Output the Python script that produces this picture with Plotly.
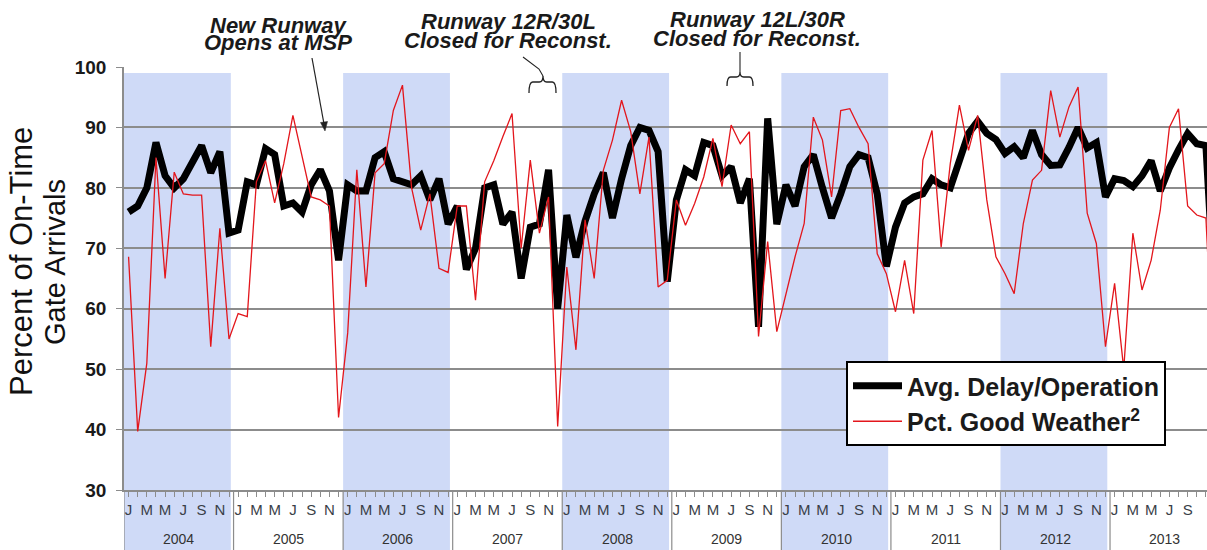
import plotly.graph_objects as go

# ---- data (Jan 2004 .. Dec 2013) ----
years = [2004, 2005, 2006, 2007, 2008, 2009, 2010, 2011, 2012, 2013]
month_letters = ["J", "", "M", "", "M", "", "J", "", "S", "", "N", ""]

avg_delay = [
    76, 77, 80, 87.5, 82, 80, 81.5, 84, 87, 82.5, 86, 72.5,          # 2004
    73, 81, 80.5, 86.5, 85.5, 77, 77.5, 76, 80.5, 83, 79.5, 68,       # 2005
    80.5, 79.5, 79.5, 85, 86, 81.5, 81, 80.5, 82, 78, 81.5, 74,       # 2006
    77, 66.5, 70, 80, 80.5, 74, 76, 65, 73.5, 74, 83, 60,             # 2007
    75.5, 68.5, 74.5, 79, 82.5, 75, 81.5, 87, 90, 89.5, 86, 64.5,     # 2008
    78, 83, 82, 87.5, 87, 82, 83.5, 77.5, 81.5, 57, 91.5, 74,         # 2009
    80.5, 77, 83.5, 85.5, 80, 75, 79, 83.5, 85.5, 85, 79, 67,         # 2010
    73.5, 77.5, 78.5, 79, 81.5, 80.5, 80, 84.5, 89, 91, 89, 88,       # 2011
    85.7, 86.8, 85, 89.5, 85.5, 83.7, 83.8, 86.7, 90, 86.6, 87.5, 78.5,  # 2012
    81.5, 81.2, 80.2, 82, 84.5, 79.5, 83.3, 86.3, 89, 87.3, 87, 60,   # 2013
]

good_weather = [
    68.6, 39.7, 51, 85, 65, 82.6, 79, 78.8, 78.8, 53.7, 73.3, 55,     # 2004
    59.2, 58.7, 81, 84.5, 77.5, 84, 92, 85, 78.5, 78, 77, 42,         # 2005
    56, 83, 63.6, 82.5, 84, 92.8, 97, 80, 73, 79, 66.7, 66,           # 2006
    77, 77, 61.4, 81, 84.5, 88.5, 92.3, 70, 84.6, 72.5, 78.5, 40.5,   # 2007
    66.9, 53.2, 74.7, 65, 82.9, 87.9, 94.5, 89.3, 79, 88.4, 63.6, 64.7,  # 2008
    78, 73.8, 77.4, 81.8, 88.2, 80.2, 90.4, 87.3, 89.3, 55.4, 71.1, 56.2,  # 2009
    62.5, 68.6, 74.1, 91.7, 87.9, 78.5, 92.8, 93.1, 90, 87.3, 69.1, 65.8,  # 2010
    59.5, 68, 59.2, 84.6, 89.5, 70.2, 84, 93.7, 86.2, 92, 78, 68.6,   # 2011
    65.8, 62.5, 74.1, 81.3, 82.9, 96.1, 88.4, 93.4, 96.7, 75.8, 70.8, 53.7,  # 2012
    64.2, 50, 72.5, 63.1, 68, 76.3, 90, 93.1, 77, 75.5, 75, 45,       # 2013
]

shaded_years = [2004, 2006, 2008, 2010, 2012]

# ---- layout helpers (pixel geometry of the 1207x550 canvas) ----
W, H = 1207, 550
L, T, B = 124, 67, 60
PLOT_W = W - L
PLOT_H = H - T - B
MONTH_W = 9.13
FONT = "Liberation Sans, Arial, sans-serif"
GRID = "#8c8c8c"
INK = "#222"


def xd(px):
    return (px - L) / MONTH_W


def xp(px):
    return (px - L) / PLOT_W


def yp(py):
    return (H - B - py) / PLOT_H


n = len(avg_delay)
xs = [i + 0.5 for i in range(n)]

fig = go.Figure()
fig.add_trace(go.Scatter(
    x=xs, y=avg_delay, mode="lines", name="Avg. Delay/Operation",
    line=dict(color="black", width=7),
))
fig.add_trace(go.Scatter(
    x=xs, y=good_weather, mode="lines", name="Pct. Good Weather<sup>2</sup>",
    line=dict(color="#e3161c", width=1.3),
))

shapes = []
for yr in shaded_years:
    k = years.index(yr)
    shapes.append(dict(
        type="rect", xref="x", yref="paper", layer="below",
        x0=12 * k, x1=12 * k + 11.7, y0=yp(H), y1=yp(73),
        fillcolor="#cfdaf7", line=dict(width=0),
    ))
for k in range(len(years) + 1):
    shapes.append(dict(
        type="line", xref="x", yref="paper", layer="below",
        x0=12 * k, x1=12 * k, y0=yp(H), y1=0,
        line=dict(color=GRID, width=1.2),
    ))

# brackets marking the runway closures
x0, xm, x1 = xd(529), xd(543), xd(556)
shapes.append(dict(
    type="path", xref="x", yref="paper",
    path=(f"M{x0},{yp(93)} Q{x0},{yp(82)} {x0 + 0.4},{yp(82)} L{xm - 0.4},{yp(82)} "
          f"Q{xm},{yp(82)} {xm},{yp(76)} Q{xm},{yp(82)} {xm + 0.4},{yp(82)} "
          f"L{x1 - 0.4},{yp(82)} Q{x1},{yp(82)} {x1},{yp(93)}"),
    line=dict(color=INK, width=1.3),
))
shapes.append(dict(
    type="path", xref="x", yref="paper",
    path=f"M{xd(523)},{yp(57)} L{xd(539)},{yp(69)} L{xm},{yp(76)}",
    line=dict(color=INK, width=1.1),
))
x0, xm, x1 = xd(727), xd(740), xd(753)
shapes.append(dict(
    type="path", xref="x", yref="paper",
    path=(f"M{x0},{yp(86)} Q{x0},{yp(77)} {x0 + 0.4},{yp(77)} L{xm - 0.4},{yp(77)} "
          f"Q{xm},{yp(77)} {xm},{yp(72)} Q{xm},{yp(77)} {xm + 0.4},{yp(77)} "
          f"L{x1 - 0.4},{yp(77)} Q{x1},{yp(77)} {x1},{yp(86)}"),
    line=dict(color=INK, width=1.3),
))
shapes.append(dict(
    type="line", xref="x", yref="paper",
    x0=xm, x1=xm, y0=yp(52), y1=yp(72),
    line=dict(color=INK, width=1.1),
))

# arrow pointing at the new runway opening
shapes.append(dict(
    type="line", xref="x", yref="paper",
    x0=xd(312), y0=yp(58), x1=xd(324), y1=yp(124),
    line=dict(color=INK, width=1.2),
))
shapes.append(dict(
    type="path", xref="x", yref="paper",
    path=(f"M{xd(325)},{yp(131)} L{xd(320.5)},{yp(122.5)} "
          f"L{xd(327.5)},{yp(121.5)} Z"),
    fillcolor=INK, line=dict(color=INK, width=0.5),
))

title_font = dict(family=FONT, size=22, color="#1a1a1a", weight="bold", style="italic")
annotations = []
for txt, cx, cy in [
    ("New Runway", 278, 25), ("Opens at MSP", 278, 43),
    ("Runway 12R/30L", 508, 21), ("Closed for Reconst.", 508, 40),
    ("Runway 12L/30R", 757, 20), ("Closed for Reconst.", 757, 39),
]:
    annotations.append(dict(
        text=txt, x=xd(cx), xref="x", y=yp(cy), yref="paper",
        xanchor="center", yanchor="middle", showarrow=False, font=title_font,
    ))

# y-axis title, two lines
for txt, cx, size in [("Percent of On-Time", 21, 31), ("Gate Arrivals", 55, 29)]:
    annotations.append(dict(
        text=txt, x=xp(cx), xref="paper", y=yp(262), yref="paper",
        textangle=-90, showarrow=False, xanchor="center", yanchor="middle",
        font=dict(family=FONT, size=size, color="#111"),
    ))

# year labels
for k, yr in enumerate(years):
    annotations.append(dict(
        text=str(yr), x=12 * k + 6, xref="x", y=yp(539), yref="paper",
        showarrow=False, xanchor="center", yanchor="middle",
        font=dict(family=FONT, size=14, color="#333"),
    ))

fig.update_layout(
    width=W, height=H,
    margin=dict(l=L, r=0, t=T, b=B),
    paper_bgcolor="white", plot_bgcolor="rgba(0,0,0,0)",
    showlegend=True,
    legend=dict(
        x=xp(846), y=yp(361), xanchor="left", yanchor="top",
        bgcolor="white", bordercolor="black", borderwidth=2,
        font=dict(family=FONT, size=25, color="#1a1a1a", weight="bold"),
        itemwidth=49, tracegroupgap=0,
    ),
    shapes=shapes,
    annotations=annotations,
    xaxis=dict(
        range=[0, xd(W)], tickmode="array", tickvals=xs,
        ticktext=month_letters * len(years),
        ticks="outside", ticklen=5, tickcolor=GRID, tickangle=0,
        tickfont=dict(family=FONT, size=15, color="#3a3f48"),
        showgrid=False, showline=True, linecolor=GRID, linewidth=1.5,
        zeroline=False,
    ),
    yaxis=dict(
        range=[30, 100], dtick=10, tickmode="linear", tick0=30,
        showgrid=True, gridcolor=GRID, gridwidth=1.5,
        ticks="outside", ticklen=6, tickcolor=GRID,
        tickfont=dict(family=FONT, size=19, color="#1a1a1a", weight="bold"),
        ticklabelstandoff=6,
        showline=True, linecolor=GRID, linewidth=1.5, zeroline=False,
    ),
)

fig.write_html(
    "out.html",
    config={"displayModeBar": False},
    post_script="document.body.style.margin='0px';",
)
